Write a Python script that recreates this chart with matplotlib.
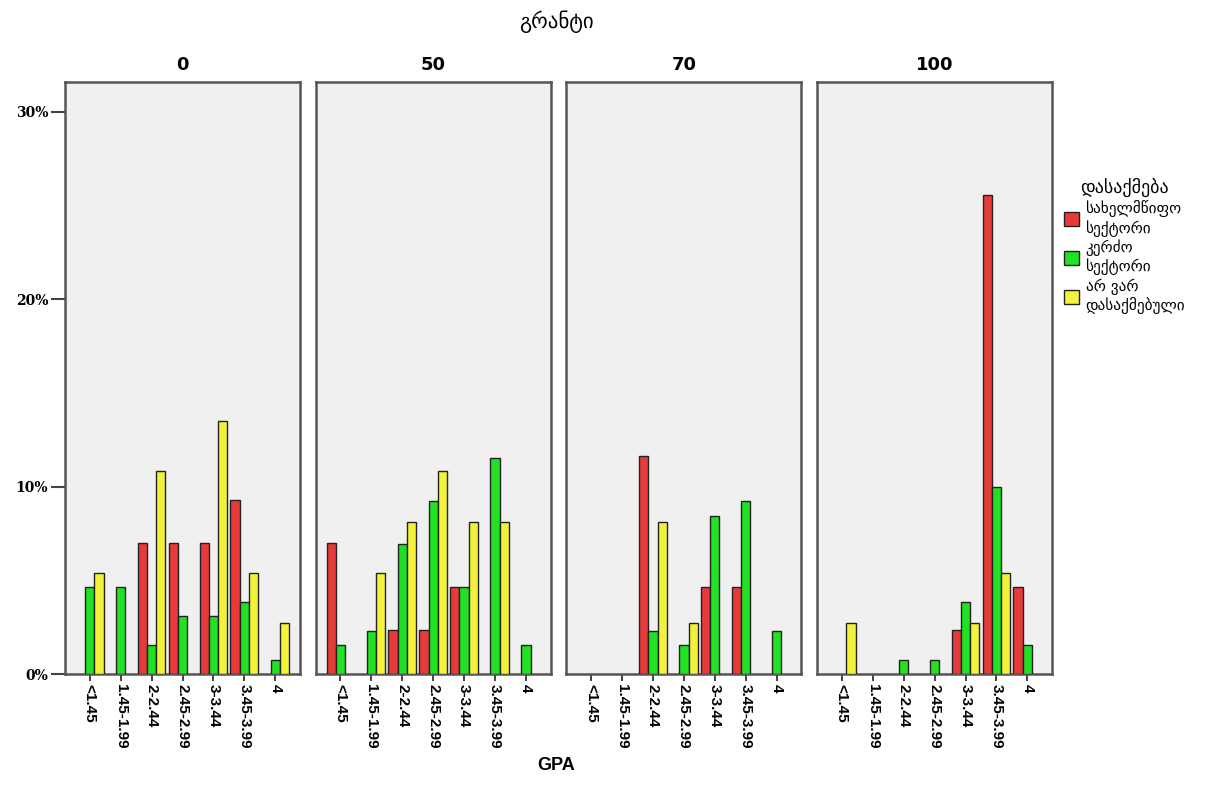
import matplotlib
matplotlib.use("Agg")
import matplotlib.pyplot as plt
from matplotlib.patches import Patch
import numpy as np

# данные: % внутри каждой группы занятости
grants = ["0", "50", "70", "100"]
gpa_bins = ["<1.45", "1.45-1.99", "2-2.44", "2.45-2.99", "3-3.44", "3.45-3.99", "4"]

state = [
    [0, 0, 6.98, 6.98, 6.98, 9.30, 0],
    [6.98, 0, 2.33, 2.33, 4.65, 0, 0],
    [0, 0, 11.63, 0, 4.65, 4.65, 0],
    [0, 0, 0, 0, 2.33, 25.58, 4.65],
]
private = [
    [4.62, 4.62, 1.54, 3.08, 3.08, 3.85, 0.77],
    [1.54, 2.31, 6.92, 9.23, 4.62, 11.54, 1.54],
    [0, 0, 2.31, 1.54, 8.46, 9.23, 2.31],
    [0, 0, 0.77, 0.77, 3.85, 10.00, 1.54],
]
unemployed = [
    [5.41, 0, 10.81, 0, 13.51, 5.41, 2.70],
    [0, 5.41, 8.11, 10.81, 8.11, 8.11, 0],
    [0, 0, 8.11, 2.70, 0, 0, 0],
    [2.70, 0, 0, 0, 2.70, 5.41, 0],
]

series_names = ["სახელმწიფო\nსექტორი", "კერძო\nსექტორი", "არ ვარ\nდასაქმებული"]
series_cols = ["#e83a3a", "#22e022", "#f2f23a"]

W, H = 1229, 790
fig = plt.figure(figsize=(W / 100, H / 100), dpi=100)

# геометрия панелей в пикселях
left0, pw, gap = 65, 235, 15.7
top, bottom = 82, 674
x = np.arange(len(gpa_bins))
bw = 0.3

for k, g in enumerate(grants):
    l = left0 + k * (pw + gap)
    ax = fig.add_axes([l / W, (H - bottom) / H, pw / W, (bottom - top) / H])
    ax.set_facecolor("#f0f0f0")
    for s in ax.spines.values():
        s.set_color("#555555")
        s.set_linewidth(1.8)
    for j, vals in enumerate([state[k], private[k], unemployed[k]]):
        v = np.array(vals, dtype=float)
        v[v == 0] = np.nan
        ax.bar(x + (j - 1) * bw, v, width=bw, color=series_cols[j],
               edgecolor="#222222", linewidth=1.0, zorder=3)
    ax.set_xlim(-0.8, 6.8)
    ax.set_ylim(0, 31.6)
    ax.set_title(g, fontsize=13, fontweight="bold", pad=9)
    ax.set_xticks(x)
    ax.set_xticklabels(gpa_bins, rotation=270, fontsize=11, fontweight="bold",
                       family="Liberation Sans")
    ax.tick_params(axis="x", length=5, width=1.2, color="#222222", pad=2)
    if k == 0:
        ax.set_yticks([0, 10, 20, 30])
        ax.set_yticklabels(["0%", "10%", "20%", "30%"], fontsize=10,
                           fontweight="bold", family="DejaVu Serif")
        ax.tick_params(axis="y", length=10, width=1.5, color="#444444", pad=2)
    else:
        ax.set_yticks([])

# общие подписи
fig.text(556 / W, 1 - 22 / H, "გრანტი", ha="center", va="center", fontsize=15)
fig.text(556 / W, 1 - 766 / H, "GPA", ha="center", va="center", fontsize=13,
         fontweight="bold", family="Liberation Sans")

# легенда
handles = [Patch(facecolor=c, edgecolor="#222222", linewidth=1.0) for c in series_cols]
leg = fig.legend(handles, series_names, title="დასაქმება", loc="upper left",
                 bbox_to_anchor=(1058 / W, 1 - 172 / H), frameon=False,
                 fontsize=11, title_fontsize=13, handlelength=1.0, handleheight=1.0,
                 handletextpad=0.4, labelspacing=0.2, borderaxespad=0)
leg._legend_box.align = "center"

fig.savefig("out.png", dpi=100)
